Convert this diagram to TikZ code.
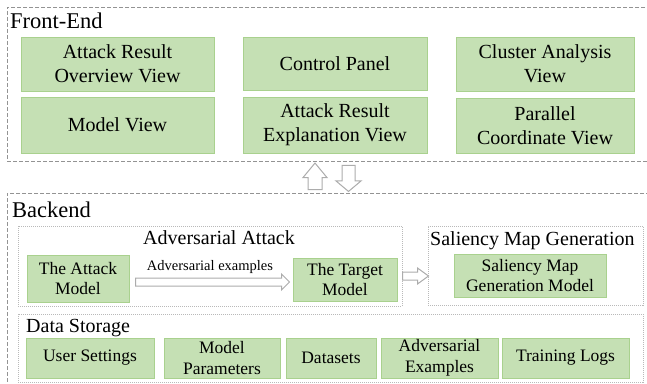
\documentclass[tikz,border=0pt]{standalone}
\usepackage{fontspec}
\setmainfont{Liberation Serif}
\usetikzlibrary{positioning,calc}

\definecolor{boxgreen}{RGB}{197,224,180}
\definecolor{boxline}{RGB}{169,209,142}

\tikzset{
  view/.style={draw=boxline, fill=boxgreen, line width=1pt, inner sep=0pt, align=center, font=\fontsize{20}{24}\selectfont},
  part/.style={draw=boxline, fill=boxgreen, line width=1pt, inner sep=0pt, align=center, font=\fontsize{17.5}{20.5}\selectfont},
  layer/.style={draw=gray!85, dash pattern=on 4pt off 2pt, line width=0.9pt, inner sep=0pt},
  group/.style={draw=gray!55, dash pattern=on 1pt off 1pt, line width=1pt, inner sep=0pt},
  hollow/.style={draw=gray!65, fill=white, line width=1pt, line join=miter},
  heading/.style={anchor=base west, inner sep=0pt, font=\fontsize{20}{24}\selectfont},
}

\begin{document}
\begin{tikzpicture}[x=1pt, y=-1pt]
\useasboundingbox (0,0) rectangle (647,383);
\clip (0,0) rectangle (647,383);

% Front-End layer
\node[layer, minimum width=653pt, minimum height=154pt] (fe) at (333.5,84) {};
\node[heading, font=\fontsize{22.5}{27}\selectfont] (fetitle) at (10,28) {Front-End};

\node[view, minimum width=193pt, minimum height=54pt] (ovw) at (117.5,64) {Attack Result\\Overview View};
\node[view, minimum width=193pt, minimum height=56pt, below=5pt of ovw] (mdl) {Model View};
\node[view, minimum width=184pt, minimum height=53pt] (ctl) at (335,63.5) {Control Panel};
\node[view, minimum width=184pt, minimum height=56pt, below=6pt of ctl] (exp) {Attack Result\\Explanation View};
\node[view, minimum width=178pt, minimum height=54pt] (cls) at (545,64) {Cluster Analysis\\View};
\node[view, minimum width=178pt, minimum height=55pt, below=6pt of cls] (par) {Parallel\\Coordinate View};

% Backend layer
\node[layer, minimum width=653pt, minimum height=207pt] (be) at (333.5,296.5) {};
\node[heading, font=\fontsize{22.5}{27}\selectfont] (betitle) at (12,217) {Backend};

% up / down between the layers
\draw[hollow] ($(be.north)+(-25.5,-3)$) -- ++(0,-12) -- ++(-5,0) -- ++(12,-14.5) -- ++(12,14.5) -- ++(-5,0) -- ++(0,12) -- cycle;
\draw[hollow] ($(fe.south)+(8.5,4)$) -- ++(13,0) -- ++(0,15.5) -- ++(6,0) -- ++(-12.5,10.5) -- ++(-12.5,-10.5) -- ++(6,0) -- cycle;

% Adversarial attack
\node[group, minimum width=384pt, minimum height=80pt] (aa) at (210,266) {};
\node[heading] (aatitle) at (143,244) {Adversarial Attack};
\node[part, minimum width=102pt, minimum height=47pt] (atk) at (78,278.5) {The Attack\\Model};
\node[part, minimum width=104pt, minimum height=43pt] (tgt) at (345,279.5) {The Target\\Model};
\draw[hollow] ($(atk.east)+(6,-0.5)$) -- ++(146,0) -- ++(0,-4) -- ++(8,8) -- ++(-8,8) -- ++(0,-4) -- ++(-146,0) -- cycle;
\node[anchor=base, inner sep=0pt, font=\fontsize{14.5}{17}\selectfont] (advlbl) at (210,270) {Adversarial examples};

% Saliency map generation
\node[group, minimum width=215pt, minimum height=79pt] (smg) at (535.5,265.5) {};
\node[heading] (smgtitle) at (430,245) {Saliency Map Generation};
\node[part, minimum width=152pt, minimum height=43pt] (sal) at (530,275.5) {Saliency Map\\Generation Model};
\draw[hollow] ($(tgt.east)+(5,-7.5)$) -- ++(15,0) -- ++(0,-4) -- ++(11,8) -- ++(-11,8) -- ++(0,-4) -- ++(-15,0) -- cycle;

% Data storage
\node[group, minimum width=625pt, minimum height=68pt] (ds) at (330.5,348) {};
\node[heading] (dstitle) at (26,332) {Data Storage};
\node[part, minimum width=128pt, minimum height=40pt] (usr) at (90,358) {User Settings};
\node[part, minimum width=116pt, minimum height=40pt] (prm) at (222,358) {Model\\Parameters};
\node[part, minimum width=90pt, minimum height=40pt] (dts) at (331,358) {Datasets};
\node[part, minimum width=117pt, minimum height=40pt] (adv) at (439.5,358) {Adversarial\\Examples};
\node[part, minimum width=127pt, minimum height=40pt] (log) at (565.5,358) {Training Logs};
\end{tikzpicture}
\end{document}
